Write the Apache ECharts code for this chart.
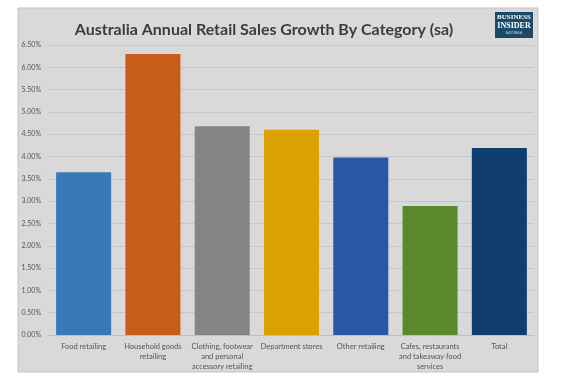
<!DOCTYPE html>
<html><head><meta charset="utf-8">
<script src="https://cdn.jsdelivr.net/npm/echarts@6/dist/echarts.min.js"></script>
<style>html,body{margin:0;padding:0;background:#fff}#c{width:565px;height:381px}</style>
</head><body><div id="c"></div>
<script>
const categories = ['Food retailing','Household goods\nretailing','Clothing, footwear\nand personal\naccessory retailing','Department stores','Other retailing','Cafes, restaurants\nand takeaway food\nservices','Total'];
const values = [3.65, 6.30, 4.68, 4.60, 3.98, 2.89, 4.19];
const colors = ['#3b78b7','#c85c19','#858585','#d9a200','#2857a5','#588a2b','#0f3e6f'];
const yTicks = {min:0, max:6.5, interval:0.5};

const chart = echarts.init(document.getElementById('c'));
chart.setOption({
  animation:false,
  backgroundColor:'#ffffff',
  graphic:[
    {type:'rect', z:-10, shape:{x:18,y:8,width:520,height:364}, style:{fill:'#d9d9d9',stroke:'#c4c4c4',lineWidth:1}},
    {type:'rect', z:10, shape:{x:495,y:12,width:38,height:26}, style:{fill:'#1b4a68'}},
    {type:'text', z:11, x:514, y:14, style:{text:'BUSINESS',fill:'#fff',font:'bold 7px "Liberation Serif"',textAlign:'center'}},
    {type:'text', z:11, x:514, y:22, style:{text:'INSIDER',fill:'#fff',font:'bold 8px "Liberation Serif"',textAlign:'center'}},
    {type:'text', z:11, x:514, y:32, style:{text:'AUSTRALIA',fill:'#cfd8de',font:'3px "Liberation Sans"',textAlign:'center'}}
  ],
  title:{text:'Australia Annual Retail Sales Growth By Category (sa)', left:259, top:17, textAlign:'center',
    textStyle:{fontFamily:'Lato', fontSize:16, fontWeight:'bold', color:'#3c3c3c'}},
  grid:{left:49, right:31, top:45, bottom:46},
  xAxis:{type:'category', data:categories,
    axisLine:{lineStyle:{color:'#bfbfbf'}}, axisTick:{show:false},
    axisLabel:{interval:0, color:'#555', fontSize:7.5, fontFamily:'Lato', lineHeight:10, margin:7}},
  yAxis:{type:'value', min:yTicks.min, max:yTicks.max, interval:yTicks.interval,
    axisLine:{show:false}, axisTick:{show:false},
    splitLine:{lineStyle:{color:'#c6c6c6'}},
    axisLabel:{color:'#555', fontSize:7, fontFamily:'Lato', margin:8, formatter:v=>v.toFixed(2)+'%'}},
  series:[{type:'bar', data:values.map((v,i)=>({value:v,itemStyle:{color:colors[i]}})), barCategoryGap:'20.6%'}]
});
</script></body></html>
